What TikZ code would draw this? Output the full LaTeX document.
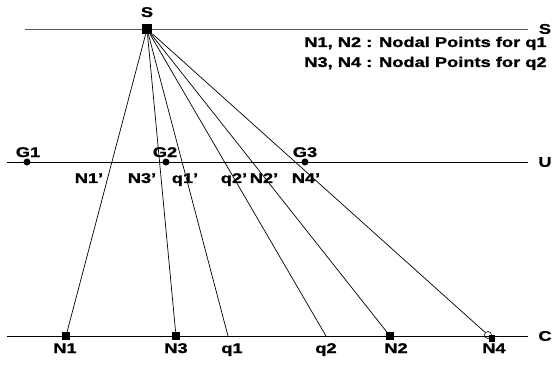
\documentclass[tikz,border=0pt]{standalone}
\usepackage{fontspec}
\setmainfont{Liberation Sans}[BoldFont={Liberation Sans Bold}, FakeStretch=1.3, BoldFeatures={FakeStretch=1.3, FakeBold=1.2}]
\usetikzlibrary{positioning}
\tikzset{
  lbl/.style={font=\bfseries\fontsize{12}{14}\selectfont, inner sep=0pt},
  sq/.style={fill, inner sep=0pt, minimum size=6pt},
  dot/.style={circle, fill, inner sep=0pt, minimum size=6pt},
}
\begin{document}
\begin{tikzpicture}[x=0.03cm,y=-0.03cm,line width=0.6pt]
\useasboundingbox (0,0) rectangle (554,368);
% the three planes
\draw[black!65] (25,29) -- (528,29);
\draw (7,162) -- (528,162);
\draw (7,336) -- (528,336);
\node[lbl] at (545,29) {S};
\node[lbl] at (545,162) {U};
\node[lbl] at (545,336) {C};
% legend
\node[lbl, anchor=base east] at (547,47) {N1, N2 : Nodal Points for q1};
\node[lbl, anchor=base east] at (547,67) {N3, N4 : Nodal Points for q2};
% source
\node[sq, minimum size=8.5pt] (src) at (147,29) {};
\node[lbl, anchor=base] at (147,17) {S};
% points on C
\node[sq] (n1) at (66,336) {};
\node[sq, minimum size=6.8pt] (n3) at (176,336) {};
\coordinate (q1) at (228,336);
\coordinate (q2) at (326,336);
\node[sq] (n2) at (390,336) {};
\node[sq, minimum size=5.5pt] (n4s) at (492,338.5) {};
\node[circle, draw, inner sep=0pt, minimum size=6pt, line width=0.5pt] (n4) at (488,335) {};
% rays
\foreach \p in {n1,n3,q1,q2,n2,n4}
  \draw (src) -- (\p);
\node[lbl, anchor=base] at (65,353) {N1};
\node[lbl, anchor=base] at (176,353) {N3};
\node[lbl, anchor=base] at (232,353) {q1};
\node[lbl, anchor=base] at (326,353) {q2};
\node[lbl, anchor=base] at (396,353) {N2};
\node[lbl, anchor=base] at (494,353) {N4};
% points on U
\node[dot] (g1) at (27,162) {};
\node[dot] (g2) at (166,162) {};
\node[dot] (g3) at (305,162) {};
\node[lbl, anchor=base] at (28,157) {G1};
\node[lbl, anchor=base] at (165,157) {G2};
\node[lbl, anchor=base] at (305,157) {G3};
\node[lbl, anchor=base] at (89,183) {N1'};
\node[lbl, anchor=base] at (142,183) {N3'};
\node[lbl, anchor=base] at (185,183) {q1'};
\node[lbl, anchor=base] at (234,183) {q2'};
\node[lbl, anchor=base] at (264,183) {N2'};
\node[lbl, anchor=base] at (306,183) {N4'};
\end{tikzpicture}
\end{document}
